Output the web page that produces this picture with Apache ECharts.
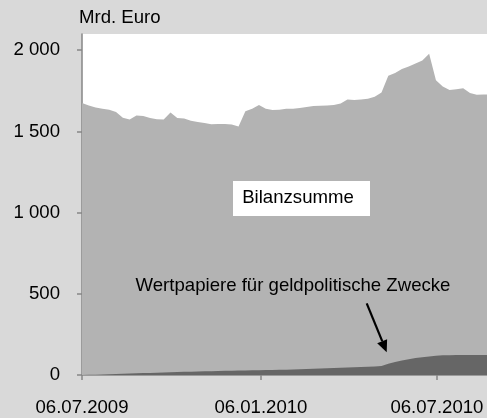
<!DOCTYPE html>
<html>
<head>
<meta charset="utf-8">
<script src="https://cdn.jsdelivr.net/npm/echarts@6/dist/echarts.min.js"></script>
<style>
html,body{margin:0;padding:0;background:#d9d9d9;}
#chart{width:487px;height:418px;}
</style>
</head>
<body>
<div id="chart"></div>
<script>
// Weekly dates
var dates = [
'2009-07-06','2009-07-13','2009-07-20','2009-07-27','2009-08-03','2009-08-10','2009-08-17','2009-08-24','2009-08-31','2009-09-07',
'2009-09-14','2009-09-21','2009-09-28','2009-10-05','2009-10-12','2009-10-19','2009-10-26','2009-11-02','2009-11-09','2009-11-16',
'2009-11-23','2009-11-30','2009-12-07','2009-12-14','2009-12-21','2009-12-28','2010-01-04','2010-01-11','2010-01-18','2010-01-25',
'2010-02-01','2010-02-08','2010-02-15','2010-02-22','2010-03-01','2010-03-08','2010-03-15','2010-03-22','2010-03-29','2010-04-05',
'2010-04-12','2010-04-19','2010-04-26','2010-05-03','2010-05-10','2010-05-17','2010-05-24','2010-05-31','2010-06-07','2010-06-14',
'2010-06-21','2010-06-28','2010-07-05','2010-07-12','2010-07-19','2010-07-26','2010-08-02','2010-08-09','2010-08-16','2010-08-23',
'2010-08-30'
];
// Bilanzsumme (Mrd. Euro)
var bilanzsumme = [
1675,1660,1648,1640,1633,1620,1585,1573,1598,1595,
1582,1575,1574,1617,1582,1580,1565,1558,1552,1544,
1546,1545,1543,1531,1625,1640,1662,1640,1632,1634,
1640,1640,1645,1650,1657,1658,1660,1663,1672,1697,
1694,1697,1702,1714,1740,1843,1860,1885,1900,1918,
1937,1978,1815,1776,1755,1760,1766,1737,1726,1727,
1728
];
// Wertpapiere für geldpolitische Zwecke (Mrd. Euro)
var wertpapiere = [
0,1,2,3,4.5,6,7.5,9,10.5,12,
13,14.5,16,17,18,19.5,20.5,21.5,22.5,23.5,
24.5,25.5,26.5,27.5,28,29,30,30.5,31,32,
33,34,35.5,37,38.5,40,41.5,43,44.5,46,
47.5,49,50.5,52,55,70,80,90,97,104,
109,114,118,121,122,123,123,123,123,123,
123
];
var xTickDates = ['2009-07-06','2010-01-06','2010-07-06'];
var yTicks = [0,500,1000,1500,2000];

var DAY = 86400000;
function utc(s){var p=s.split('-');return Date.UTC(+p[0],+p[1]-1,+p[2]);}
var START = utc(dates[0]);
function dayOf(s){return Math.round((utc(s)-START)/DAY);}
function pad(n){return (n<10?'0':'')+n;}
function fmtDay(v){var d=new Date(START+Math.round(v)*DAY);return pad(d.getUTCDate())+'.'+pad(d.getUTCMonth()+1)+'.'+d.getUTCFullYear();}

var xTicks = xTickDates.map(dayOf);
var xMax = dayOf('2010-08-26')+0.5;

var chart = echarts.init(document.getElementById('chart'), null, {renderer:'canvas'});
var FONT = 'Liberation Sans, Arial, sans-serif';
var FS = 18.6;
chart.setOption({
  backgroundColor:'#d9d9d9',
  animation:false,
  textStyle:{fontFamily:FONT},
  grid:{left:82,right:0,top:34,bottom:43,show:true,backgroundColor:'#ffffff',borderWidth:0,containLabel:false},
  xAxis:{
    type:'value',min:0,max:xMax,
    axisLine:{show:true,lineStyle:{color:'#868686',width:1.5}},
    axisTick:{show:true,length:5,lineStyle:{color:'#868686',width:1.5},customValues:xTicks},
    axisLabel:{show:true,color:'#000',fontSize:FS,fontFamily:FONT,margin:23,customValues:xTicks,formatter:fmtDay},
    splitLine:{show:false}
  },
  yAxis:{
    type:'value',min:0,max:2100,interval:500,
    axisLine:{show:true,lineStyle:{color:'#868686',width:1.5}},
    axisTick:{show:true,length:5,lineStyle:{color:'#868686',width:1.5},customValues:yTicks},
    axisLabel:{color:'#000',fontSize:FS,fontFamily:FONT,margin:22,customValues:yTicks,
      formatter:function(v){return String(v).replace(/\B(?=(\d{3})+(?!\d))/g,' ');}},
    splitLine:{show:false}
  },
  series:[
    {type:'line',name:'Bilanzsumme',symbol:'none',showSymbol:false,
     data:dates.map(function(d,i){return [dayOf(d),bilanzsumme[i]];}),
     lineStyle:{width:0},areaStyle:{color:'#b3b3b3',opacity:1},itemStyle:{color:'#b3b3b3'},z:2},
    {type:'line',name:'Wertpapiere',symbol:'none',showSymbol:false,
     data:dates.map(function(d,i){return [dayOf(d),wertpapiere[i]];}),
     lineStyle:{width:0},areaStyle:{color:'#666666',opacity:1},itemStyle:{color:'#666666'},z:3}
  ],
  graphic:[
    {type:'text',left:79,top:8,style:{text:'Mrd. Euro',font:FS+'px '+FONT,fill:'#000'}},
    {type:'rect',shape:{x:233,y:181,width:137,height:35},style:{fill:'#ffffff'},z:10},
    {type:'text',x:298,y:198,style:{text:'Bilanzsumme',font:FS+'px '+FONT,fill:'#000',align:'center',verticalAlign:'middle'},z:11},
    {type:'text',x:293,y:286,style:{text:'Wertpapiere für geldpolitische Zwecke',font:FS+'px '+FONT,fill:'#000',align:'center',verticalAlign:'middle'},z:11},
    {type:'line',shape:{x1:366.7,y1:303.3,x2:382.2,y2:341.2},style:{stroke:'#000',lineWidth:2.2},z:11},
    {type:'polygon',shape:{points:[[386.7,352.3],[377.2,343.3],[387.1,339.2]]},style:{fill:'#000'},z:11}
  ]
});
</script>
</body>
</html>
